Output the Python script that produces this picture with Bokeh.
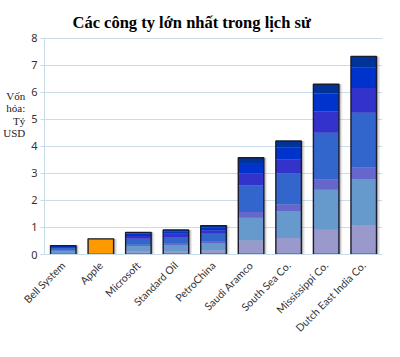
import math
import numpy as np
from bokeh.plotting import figure
from bokeh.models import ColumnDataSource, Range1d, FixedTicker, Title
from bokeh.transform import dodge
from bokeh.embed import file_html
from bokeh.resources import INLINE

# ---- data ----
companies = ["Bell System", "Apple", "Microsoft", "Standard Oil", "PetroChina",
             "Saudi Aramco", "South Sea Co.", "Mississippi Co.", "Dutch East India Co."]
values = [0.33, 0.58, 0.82, 0.91, 1.07, 3.58, 4.20, 6.30, 7.33]
highlight = "Apple"
title_text = "Các công ty lớn nhất trong lịch sử"
y_title = "Vốn\nhóa:\nTỷ\nUSD"
y_ticks = [0, 1, 2, 3, 4, 5, 6, 7, 8]

# gradient bands (style): cumulative fraction of bar height and colours, bottom -> top
band_edges = [0.0, 0.146, 0.38, 0.44, 0.715, 0.84, 0.945, 1.0]
band_colors = ["#9999CC", "#6699CC", "#6666CC", "#3366CC", "#3333CC", "#0033CC", "#003399"]
highlight_color = "#FF9900"

p = figure(x_range=companies, width=384, height=341, output_backend="svg",
           toolbar_location=None,
           min_border_left=40, min_border_right=2, min_border_top=37, min_border_bottom=60)
p.title = Title(text=title_text, text_font="Liberation Serif", text_font_style="bold",
                text_font_size="16.5px", text_color="#000000", align="left", offset=28, standoff=12)
p.y_range = Range1d(0, 8.03)

all_src = ColumnDataSource(dict(company=companies, value=values))
grad_idx = [i for i, c in enumerate(companies) if c != highlight]
hi_idx = [i for i, c in enumerate(companies) if c == highlight]

BW = 0.68
# shadow
p.vbar(x=dodge("company", 0.09, range=p.x_range), top="value", bottom=0, width=BW,
       source=all_src, fill_color="#888888", fill_alpha=0.18, line_color=None)
p.vbar(x=dodge("company", 0.05, range=p.x_range), top="value", bottom=0, width=BW,
       source=all_src, fill_color="#666666", fill_alpha=0.35, line_color=None)

g_comp = [companies[i] for i in grad_idx]
g_val = np.array([values[i] for i in grad_idx])
for k, col in enumerate(band_colors):
    src = ColumnDataSource(dict(company=g_comp, bottom=g_val * band_edges[k], top=g_val * band_edges[k + 1]))
    p.vbar(x="company", bottom="bottom", top="top", width=BW, source=src,
           fill_color=col, line_color=None)

h_src = ColumnDataSource(dict(company=[companies[i] for i in hi_idx], value=[values[i] for i in hi_idx]))
p.vbar(x="company", top="value", bottom=0, width=BW, source=h_src,
       fill_color=highlight_color, line_color=None)

# outlines
p.vbar(x="company", top="value", bottom=0, width=BW, source=all_src,
       fill_color=None, line_color="#1b1b2f", line_width=1.4)

# axes / grid
p.ygrid.grid_line_color = "#c9dcea"
p.xgrid.grid_line_color = None
p.outline_line_color = None
p.yaxis.ticker = FixedTicker(ticks=y_ticks)
p.yaxis.axis_line_color = "#c9dcea"
p.yaxis.major_tick_line_color = "#c9dcea"
p.yaxis.major_tick_out = 4
p.yaxis.major_tick_in = 0
p.yaxis.minor_tick_line_color = None
p.yaxis.major_label_standoff = 3
p.yaxis.major_label_text_font = "Noto Sans"
p.yaxis.major_label_text_font_size = "11px"
p.yaxis.major_label_text_color = "#333333"
# trailing empty lines lift the (centred) label towards the upper part of the axis
p.yaxis.axis_label = y_title + "\n\n\n\n\n"
p.yaxis.axis_label_orientation = "horizontal"
p.yaxis.axis_label_text_font = "Liberation Serif"
p.yaxis.axis_label_text_font_style = "normal"
p.yaxis.axis_label_text_font_size = "11px"
p.yaxis.axis_label_text_line_height = 1.05
p.yaxis.axis_label_text_color = "#222222"
p.yaxis.axis_label_standoff = 3

p.xaxis.axis_line_color = "#c9dcea"
p.xaxis.major_tick_line_color = None
p.xaxis.major_label_orientation = math.pi / 4
p.xaxis.major_label_standoff = 3
p.xaxis.major_label_text_font = "Lato"
p.xaxis.major_label_text_font_size = "10.5px"
p.xaxis.major_label_text_color = "#333333"

p.x_range.range_padding = 0.0

open("out.html", "w").write(file_html(p, INLINE))
